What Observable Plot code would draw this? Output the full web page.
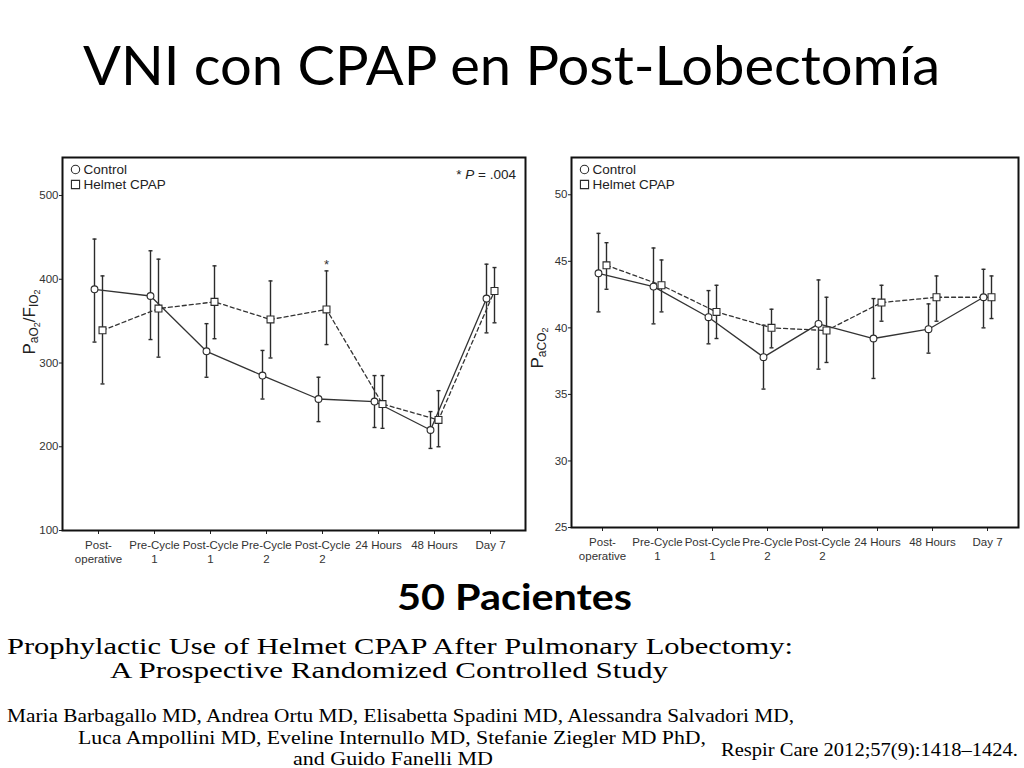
<!DOCTYPE html>
<html><head><meta charset="utf-8">
<script src="https://cdn.jsdelivr.net/npm/d3@7"></script>
<script src="https://cdn.jsdelivr.net/npm/@observablehq/plot@0.6"></script>
<style>
html,body{margin:0;padding:0;background:#fff}
body{width:1024px;height:768px;overflow:hidden;position:relative;font-family:"Liberation Sans",Arial,sans-serif}
#page{position:absolute;left:0;top:0}
#left{position:absolute;left:20px;top:140px}
#right{position:absolute;left:530px;top:140px}
</style></head><body>
<svg id="page" width="1024" height="768"></svg>
<div id="left"></div><div id="right"></div>
<script>
// ---------- data ----------
const categories = ["Post-operative","Pre-Cycle 1","Post-Cycle 1","Pre-Cycle 2","Post-Cycle 2","24 Hours","48 Hours","Day 7"];
const tickLabels = ["Post-\noperative","Pre-Cycle\n1","Post-Cycle\n1","Pre-Cycle\n2","Post-Cycle\n2","24 Hours","48 Hours","Day 7"];
const groups = ["Control","Helmet CPAP"];

// PaO2/FiO2
const pfControlMean = [388,380,314,285,257,254,220,377];
const pfControlLow  = [325,328,283,257,230,223,198,336];
const pfControlHigh = [448,434,347,315,283,285,242,418];
const pfCpapMean    = [339,365,373,352,364,251,232,386];
const pfCpapLow     = [275,307,329,306,322,222,200,348];
const pfCpapHigh    = [404,424,416,398,410,285,267,414];
const pfTicks = [100,200,300,400,500];
const pfStar = [{cat:"Post-Cycle 2", y:417}];

// PaCO2
const co2ControlMean = [44.1,43.1,40.8,37.8,40.3,39.2,39.9,42.3];
const co2ControlLow  = [41.2,40.3,38.8,35.4,36.9,36.2,38.1,40.0];
const co2ControlHigh = [47.1,46.0,42.8,40.2,43.6,42.2,41.8,44.4];
const co2CpapMean    = [44.7,43.2,41.2,40.0,39.8,41.9,42.3,42.3];
const co2CpapLow     = [42.9,41.2,39.2,38.5,37.4,40.5,40.5,40.7];
const co2CpapHigh    = [46.4,45.1,43.2,41.4,42.3,43.2,43.9,43.9];
const co2Ticks = [25,30,35,40,45,50];

const titleText = "VNI con CPAP en Post-Lobectomía";
const patientsText = "50 Pacientes";
const paperTitle = ["Prophylactic Use of Helmet CPAP After Pulmonary Lobectomy:","A Prospective Randomized Controlled Study"];
const authors = ["Maria Barbagallo MD, Andrea Ortu MD, Elisabetta Spadini MD, Alessandra Salvadori MD,","Luca Ampollini MD, Eveline Internullo MD, Stefanie Ziegler MD PhD,","and Guido Fanelli MD"];
const reference = "Respir Care 2012;57(9):1418\u20131424.";

function rows(cm, cl, ch, hm, hl, hh) {
  const out = [];
  categories.forEach((c, i) => {
    out.push({cat:c, group:"Control", mean:cm[i], low:cl[i], high:ch[i]});
    out.push({cat:c, group:"Helmet CPAP", mean:hm[i], low:hl[i], high:hh[i]});
  });
  return out;
}

const capSymbol = {draw(ctx, size){ const r = Math.sqrt(size/Math.PI); ctx.moveTo(-r,0); ctx.lineTo(r,0); }};
const INK = "#2b2b2b";
const SANS = '"Liberation Sans", Arial, sans-serif';

function chart({data, yDomain, yTicks, width, height, margins, padding, star}) {
  const off = {"Control": -4, "Helmet CPAP": 4};
  const marks = [];
  for (const g of groups) {
    const d = data.filter(r => r.group === g);
    const dx = off[g];
    marks.push(Plot.ruleX(d, {x:"cat", y1:"low", y2:"high", dx, stroke:INK, strokeWidth:1.4}));
    marks.push(Plot.dot(d, {x:"cat", y:"high", dx, symbol:capSymbol, r:2, fill:"none", stroke:INK, strokeWidth:1.4}));
    marks.push(Plot.dot(d, {x:"cat", y:"low", dx, symbol:capSymbol, r:2, fill:"none", stroke:INK, strokeWidth:1.4}));
  }
  for (const g of groups) {
    const d = data.filter(r => r.group === g);
    const dx = off[g];
    marks.push(Plot.line(d, {x:"cat", y:"mean", dx, stroke:"#333", strokeWidth:1.3, strokeDasharray: g === "Control" ? null : "4,3"}));
  }
  for (const g of groups) {
    const d = data.filter(r => r.group === g);
    const dx = off[g];
    marks.push(Plot.dot(d, {x:"cat", y:"mean", dx, symbol: g === "Control" ? "circle" : "square", r: g === "Control" ? 3.4 : 3.9, fill:"white", stroke:INK, strokeWidth:1.1}));
  }
  if (star) marks.push(Plot.text(star, {x:"cat", y:"y", dx:4, text:() => "*", fontSize:13, fill:"#333"}));
  // legend
  marks.push(Plot.dot([groups[0]], {frameAnchor:"top-left", dx:13, dy:12, symbol:"circle", r:4.2, fill:"none", stroke:INK, strokeWidth:1.1}));
  marks.push(Plot.dot([groups[1]], {frameAnchor:"top-left", dx:13, dy:27, symbol:"square", r:4.6, fill:"none", stroke:INK, strokeWidth:1.1}));
  marks.push(Plot.text([groups[0]], {frameAnchor:"top-left", lineAnchor:"middle", dx:21, dy:12, text:d => d, textAnchor:"start", fontSize:13.5, fill:"#222"}));
  marks.push(Plot.text([groups[1]], {frameAnchor:"top-left", lineAnchor:"middle", dx:21, dy:27, text:d => d, textAnchor:"start", fontSize:13.5, fill:"#222"}));
  marks.push(Plot.axisY({ticks:yTicks, tickSize:3, tickPadding:1, fontSize:11.5, fill:"#333", stroke:"#222", label:null}));
  marks.push(Plot.axisX({tickSize:4, tickPadding:5, fontSize:11.5, fill:"#333", stroke:"#222", label:null, lineHeight:1.22,
    tickFormat: d => tickLabels[categories.indexOf(d)]}));
  marks.push(Plot.frame({stroke:"#111", strokeWidth:2}));
  return Plot.plot({
    width, height, ...margins,
    style:{fontFamily:SANS, background:"transparent", overflow:"visible"},
    x:{type:"point", domain:categories, padding},
    y:{domain:yDomain},
    marks
  });
}

const left = chart({
  data: rows(pfControlMean, pfControlLow, pfControlHigh, pfCpapMean, pfCpapLow, pfCpapHigh),
  yDomain:[100, 545.4], yTicks:pfTicks, width:520, height:440,
  margins:{marginLeft:42, marginRight:15, marginTop:17, marginBottom:50}, padding:0.57, star:pfStar
});
document.getElementById("left").appendChild(left);

const right = chart({
  data: rows(co2ControlMean, co2ControlLow, co2ControlHigh, co2CpapMean, co2CpapLow, co2CpapHigh),
  yDomain:[25, 52.8], yTicks:co2Ticks, width:494, height:440,
  margins:{marginLeft:41, marginRight:6, marginTop:17, marginBottom:53}, padding:0.55
});
document.getElementById("right").appendChild(right);

// y-axis labels with subscripts
function yLabel(svg, x, y, parts) {
  const t = d3.select(svg).append("text")
    .attr("transform", `translate(${x},${y}) rotate(-90)`)
    .attr("text-anchor", "middle").attr("fill", "#222")
    .style("font-family", SANS).attr("font-size", 17);
  for (const [s, size, dy] of parts) {
    const sp = t.append("tspan").text(s);
    if (size) sp.attr("font-size", size);
    if (dy) sp.attr("dy", dy);
  }
}
yLabel(left, 15, 182, [["P"],["aO",12,3],["2",9,2],["/F",17,-5],["IO",12,3],["2",9,2]]);
yLabel(right, 13, 208, [["P"],["aCO",12,3],["2",9,2]]);

// P-value note
(function(){
  const t = d3.select(left).append("text")
    .attr("x", 496).attr("y", 39).attr("text-anchor","end").attr("fill","#222")
    .style("font-family", SANS).attr("font-size",13.5);
  t.append("tspan").text("* ");
  t.append("tspan").text("P").attr("font-style","italic");
  t.append("tspan").text(" = .004");
})();

// page texts
const page = d3.select("#page");
function ptext(s, x, y, opts) {
  const t = page.append("text").attr("x", x).attr("y", y).text(s)
    .attr("font-family", opts.family).attr("font-size", opts.size)
    .attr("font-weight", opts.weight || "normal").attr("fill", opts.fill || "#000");
  if (opts.len) t.attr("textLength", opts.len).attr("lengthAdjust", "spacingAndGlyphs");
  return t;
}
ptext(titleText, 83, 85, {family:"Lato, 'Open Sans', sans-serif", size:55, len:857});
ptext(patientsText, 397, 610, {family:"Lato, 'Open Sans', sans-serif", size:37, weight:"bold", len:235});
const serif = "'Liberation Serif', 'DejaVu Serif', serif";
ptext(paperTitle[0], 7, 654, {family:serif, size:23, len:786});
ptext(paperTitle[1], 110, 678, {family:serif, size:23, len:558});
ptext(authors[0], 7, 722, {family:serif, size:19, len:787});
ptext(authors[1], 78, 744, {family:serif, size:19, len:628});
ptext(authors[2], 293, 765, {family:serif, size:19, len:200});
ptext(reference, 721, 756, {family:serif, size:19.5, len:297});
</script>
</body></html>
